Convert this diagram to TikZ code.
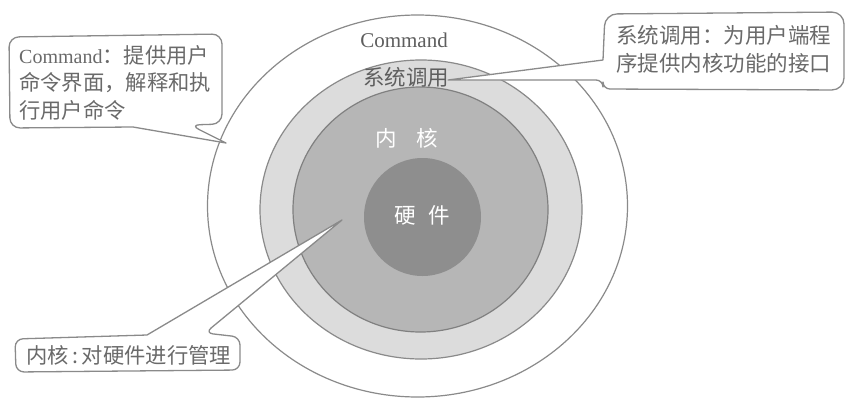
\documentclass[tikz,border=0pt]{standalone}
\usepackage{fontspec}
\setmainfont{Liberation Serif}
\newfontfamily\cjk{Noto Sans CJK SC}
\definecolor{linegray}{HTML}{8A8A8A}
\definecolor{ringlight}{HTML}{DCDCDC}
\definecolor{ringmid}{HTML}{B6B6B6}
\definecolor{ringdark}{HTML}{8E8E8E}
\definecolor{txtgray}{HTML}{6A6A6A}
\definecolor{lbldark}{HTML}{5E5E5E}
\begin{document}
\begin{tikzpicture}[x=1pt,y=-1pt,
  layer/.style={draw=linegray, line width=1.2pt},
  callout/.style={draw=linegray, fill=white, line width=1.3pt, line join=round},
  lbl/.style={font=\fontsize{21.3}{27.5}\selectfont, text=txtgray, inner sep=0pt, align=left, anchor=north west},
  ringlbl/.style={font=\fontsize{21.5}{24}\selectfont, inner sep=0pt}
]
\useasboundingbox (0,0) rectangle (846,397);
% layers
\draw[layer, fill=white] (417.5,206) ellipse [x radius=210, y radius=191];
\draw[layer, fill=ringlight] (421,209.5) ellipse [x radius=161, y radius=149.5];
\draw[layer, draw=gray, fill=ringmid] (420.5,209.5) ellipse [x radius=127.5, y radius=122.5];
\fill[ringdark] (422.5,217) ellipse [x radius=58.5, y radius=59];
% callouts
\draw[callout] (133,127) [rounded corners=10pt] -- (10,128) -- (9,37) -- (222,34) -- (222,124) -- (190,125) [sharp corners] -- (226,143) -- cycle;
\draw[callout] (603,60) [rounded corners=12pt] -- (605,14) -- (844,12) -- (844,90) [rounded corners=7pt] -- (603,89) -- (603,80) [sharp corners] -- (448,80) -- cycle;
\draw[callout] (147,335) [rounded corners=8pt] -- (15,339) -- (16,372) -- (240,370) -- (240,337) -- (205,333) [sharp corners] -- (342,220) -- cycle;
% ring labels
\node[ringlbl, text=lbldark, font=\fontsize{21}{24}\selectfont] (cmd) at (404,40) {Command};
\node[ringlbl, text=lbldark] (sys) at (406,77) {\cjk 系统调用};
\node[ringlbl, text=white] (ker) at (407,138) {\cjk 内\hspace{0.9em}核};
\node[ringlbl, text=white] (hw) at (422,215) {\cjk 硬\hspace{0.6em}件};
% callout texts
\node[lbl] (ltext) at (19,45) {{\fontsize{20}{27.5}\selectfont Command}{\cjk ：提供用户}\\{\cjk 命令界面，解释和执}\\{\cjk 行用户命令}};
\node[lbl, font=\fontsize{21.5}{28}\selectfont] (rtext) at (616,25) {{\cjk 系统调用：为用户端程}\\{\cjk 序提供内核功能的接口}};
\node[lbl, font=\fontsize{21.3}{28}\selectfont] (btext) at (26,345) {{\cjk 内核\,:\,对硬件进行管理}};
\end{tikzpicture}
\end{document}
